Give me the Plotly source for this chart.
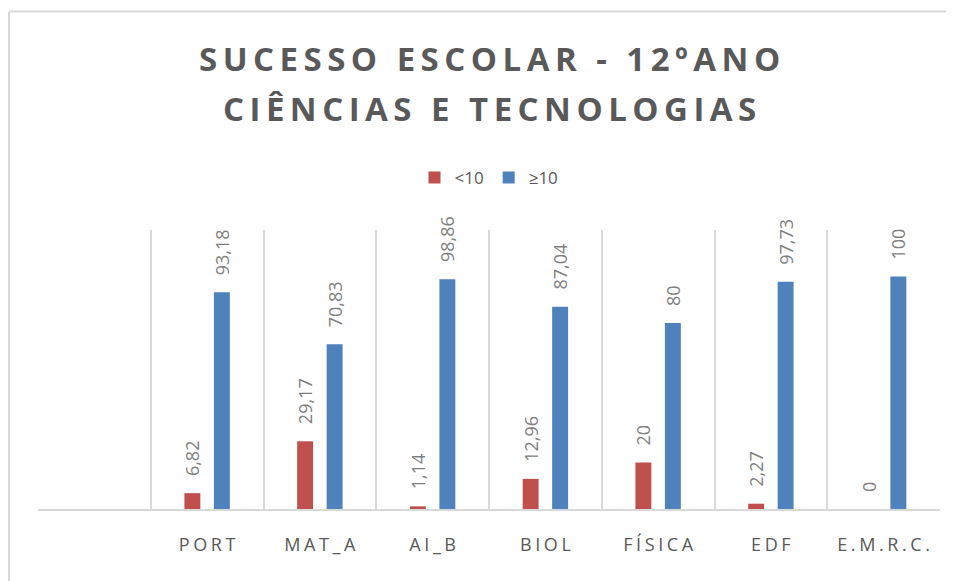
import plotly.graph_objects as go

# disciplinas (a primeira categoria fica vazia, como no original)
disciplinas = [" ", "PORT", "MAT_A", "AI_B", "BIOL", "FÍSICA", "EDF", "E.M.R.C."]
neg = [None, 6.82, 29.17, 1.14, 12.96, 20, 2.27, 0]      # <10
pos = [None, 93.18, 70.83, 98.86, 87.04, 80, 97.73, 100]  # >=10

cinza = "#595959"
pad = "\u00a0\u00a0\u00a0"

# a página tem 8px de margem no body
W, H = 946, 573
L, R, T, B = 30, 14, 222, 72
ph = H - T - B
pw = W - L - R


def fmt(v):
    return "" if v is None else pad + f"{v:g}".replace(".", ",")


def espaca(s, sep="\u2009"):
    return sep.join(s)


fig = go.Figure()
fig.add_trace(go.Bar(x=disciplinas, y=neg, name="<10", marker_color="#C0504D",
                     text=[fmt(v) for v in neg]))
fig.add_trace(go.Bar(x=disciplinas, y=pos, name="≥10", marker_color="#4F81BD",
                     text=[fmt(v) for v in pos]))

fig.update_traces(textposition="outside", textangle=-90, cliponaxis=False,
                  constraintext="none", marker_line_width=0,
                  textfont=dict(family="Open Sans", size=18, color="#7f7f7f"))

fig.update_layout(
    width=W, height=H,
    margin=dict(l=L, r=R, t=T, b=B),
    plot_bgcolor="white", paper_bgcolor="white",
    barmode="group", bargap=0.477, bargroupgap=0.46,
    font=dict(family="Open Sans", color=cinza),
    showlegend=True,
    legend=dict(orientation="h", x=0.5, xanchor="center", y=1 + 52 / ph, yanchor="middle",
                font=dict(size=17, color=cinza), itemwidth=30, traceorder="normal"),
)

fig.update_xaxes(
    tickmode="array", tickvals=disciplinas,
    ticktext=[espaca(d, "\u200a\u200a") for d in disciplinas],
    tickson="boundaries", ticks="", showgrid=True, gridcolor="#d9d9d9", gridwidth=1.5,
    showline=True, linecolor="#d9d9d9", linewidth=1.5,
    tickfont=dict(size=18, color=cinza), ticklabelstandoff=19,
)
fig.update_yaxes(range=[0, 120], showgrid=False, showticklabels=False, zeroline=False)

# título em duas linhas
for txt, ypx in [("SUCESSO ESCOLAR - 12ºANO", 50), ("CIÊNCIAS E TECNOLOGIAS", 100)]:
    fig.add_annotation(text="<b>" + espaca(txt) + "</b>", xref="paper", yref="paper",
                       x=0.5, y=1 + (T - ypx) / ph, xanchor="center", yanchor="middle",
                       showarrow=False, font=dict(family="Open Sans", size=33, color=cinza))

# moldura do gráfico (só topo e esquerda visíveis)
x0 = (1 - L) / pw
y1 = 1 + (T - 3.5) / ph
fig.add_shape(type="line", xref="paper", yref="paper", x0=x0, x1=1.1, y0=y1, y1=y1,
              line=dict(color="#d9d9d9", width=2))
fig.add_shape(type="line", xref="paper", yref="paper", x0=x0, x1=x0, y0=-0.5, y1=y1,
              line=dict(color="#d9d9d9", width=2))

fig.write_html("out.html")
